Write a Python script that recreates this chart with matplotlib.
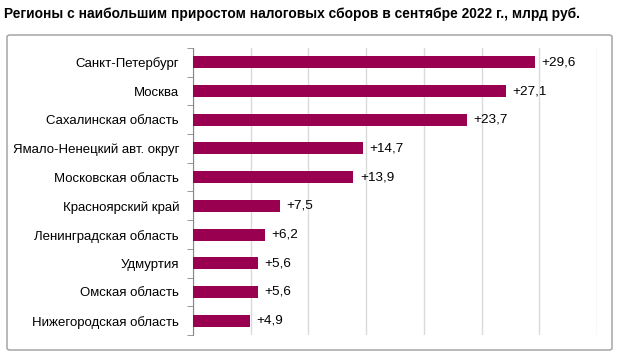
import matplotlib.pyplot as plt
from matplotlib.patches import FancyBboxPatch
from matplotlib.ticker import FixedLocator

regions = ['Санкт-Петербург', 'Москва', 'Сахалинская область',
           'Ямало-Ненецкий авт. округ', 'Московская область',
           'Красноярский край', 'Ленинградская область', 'Удмуртия',
           'Омская область', 'Нижегородская область']
growth = [29.6, 27.1, 23.7, 14.7, 13.9, 7.5, 6.2, 5.6, 5.6, 4.9]
value_labels = ['+29,6', '+27,1', '+23,7', '+14,7', '+13,9',
                '+7,5', '+6,2', '+5,6', '+5,6', '+4,9']

plt.rcParams['font.family'] = ['Liberation Sans', 'DejaVu Sans']

fig = plt.figure(figsize=(6.2, 3.59), dpi=100)

# рамка вокруг графика
box = FancyBboxPatch((7 / 620, 9 / 359), 605 / 620, 315 / 359,
                     boxstyle='round,pad=0,rounding_size=0.005',
                     transform=fig.transFigure, facecolor='white',
                     edgecolor='#a6a6a6', linewidth=1.1, zorder=-5)
fig.patches.append(box)

fig.text(4 / 620, 1 - 14 / 359,
         'Регионы с наибольшим приростом налоговых сборов в сентябре 2022 г., млрд руб.',
         fontsize=9.9, fontweight='bold', va='center', ha='left')

ax = fig.add_axes([193 / 620, 24 / 359, 404 / 620, 287 / 359])
ax.set_facecolor('none')
ax.set_zorder(2)

pos = list(range(len(regions)))
ax.barh(pos, growth, height=0.42, color='#990050', zorder=3)
for y, v, lab in zip(pos, growth, value_labels):
    ax.text(v + 0.6, y, lab, va='center', ha='left', fontsize=9.7)

ax.set_xlim(0, 35)
ax.set_ylim(len(regions) - 0.5, -0.5)
ax.set_xticks(range(0, 36, 5))
ax.tick_params(axis='x', length=0, labelbottom=False)
ax.grid(axis='x', color='#dadada', linewidth=1, zorder=0)

ax.set_yticks(pos)
ax.set_yticklabels(regions, fontsize=9.5)
ax.tick_params(axis='y', which='major', length=0, pad=10)
ax.yaxis.set_minor_locator(FixedLocator([p + 0.5 for p in range(-1, len(regions))]))
ax.tick_params(axis='y', which='minor', length=4, color='#888888')

for s in ['top', 'right', 'bottom']:
    ax.spines[s].set_visible(False)
ax.spines['left'].set_color('#888888')

fig.savefig('out.png', dpi=100)
